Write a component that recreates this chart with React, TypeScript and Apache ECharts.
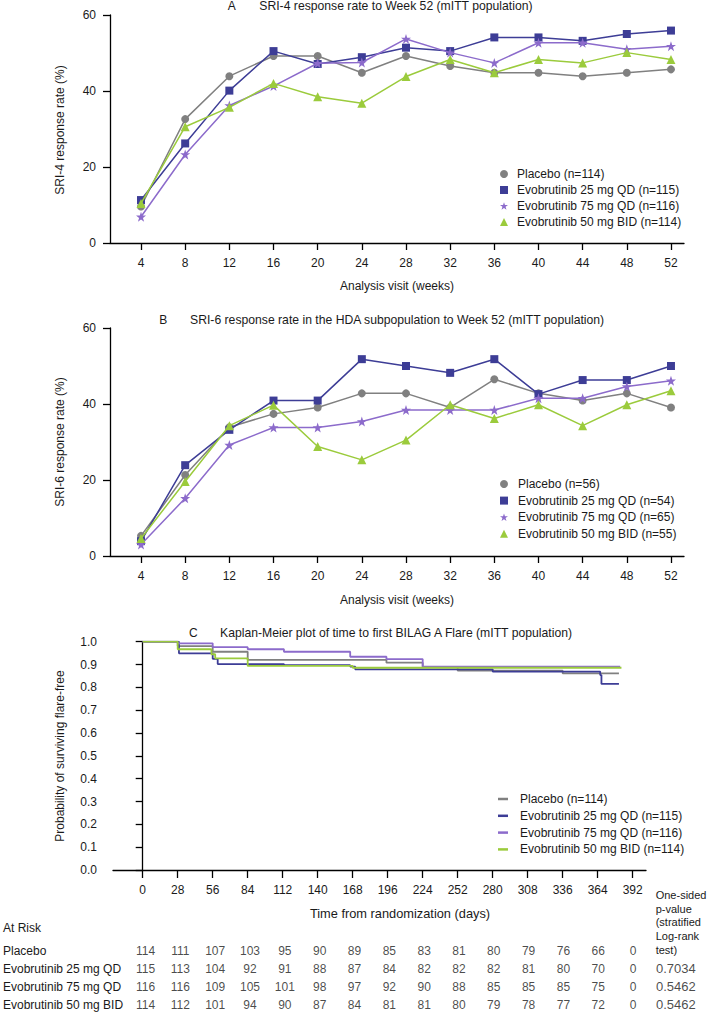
import React, { useEffect, useRef } from 'react';
import * as echarts from 'echarts';

// ---------- data ----------
const weeks = [4, 8, 12, 16, 20, 24, 28, 32, 36, 40, 44, 48, 52];

const namesA = ['Placebo (n=114)', 'Evobrutinib 25 mg QD (n=115)', 'Evobrutinib 75 mg QD (n=116)', 'Evobrutinib 50 mg BID (n=114)'];
const namesB = ['Placebo (n=56)', 'Evobrutinib 25 mg QD (n=54)', 'Evobrutinib 75 mg QD (n=65)', 'Evobrutinib 50 mg BID (n=55)'];
const namesC = ['Placebo (n=114)', 'Evobrutinib 25 mg QD (n=115)', 'Evobrutinib 75 mg QD (n=116)', 'Evobrutinib 50 mg BID (n=114)'];

const sri4Placebo = [9.6, 32.6, 43.9, 49.2, 49.2, 44.8, 49.2, 46.6, 44.8, 44.8, 43.9, 44.8, 45.7];
const sri4Evo25 = [11.3, 26.2, 40.1, 50.5, 47.1, 48.9, 51.4, 50.5, 54.1, 54.1, 53.2, 55.0, 55.9];
const sri4Evo75 = [6.9, 23.3, 36.2, 41.3, 47.3, 47.5, 53.7, 50.1, 47.4, 52.7, 52.7, 51.0, 51.8];
const sri4Evo50 = [10.4, 30.6, 35.7, 42.0, 38.5, 36.8, 43.8, 48.3, 44.8, 48.3, 47.4, 50.1, 48.3];

const sri6Placebo = [5.3, 21.3, 33.9, 37.4, 39.1, 42.8, 42.8, 39.1, 46.5, 42.8, 40.9, 42.8, 39.1];
const sri6Evo25 = [3.9, 23.9, 33.2, 40.9, 40.9, 51.8, 50.0, 48.2, 51.8, 42.6, 46.3, 46.3, 50.0];
const sri6Evo75 = [3.0, 15.2, 29.2, 33.8, 33.8, 35.4, 38.4, 38.4, 38.4, 41.5, 41.5, 44.6, 46.1];
const sri6Evo50 = [4.6, 19.6, 34.3, 39.7, 28.8, 25.3, 30.5, 39.8, 36.2, 39.8, 34.3, 39.8, 43.5];

// Kaplan-Meier steps: [day of change, survival after change]
const kmPlacebo = [[0, 1], [28, 0.981], [56, 0.956], [84, 0.92], [195, 0.908], [224, 0.889], [252, 0.873], [336, 0.861], [381, 0.861]];
const kmEvo25 = [[0, 1], [29, 0.949], [56, 0.925], [60, 0.902], [113, 0.897], [166, 0.891], [170, 0.879], [280, 0.869], [366, 0.854], [367, 0.815], [381, 0.815]];
const kmEvo75 = [[0, 1], [28, 0.993], [56, 0.976], [84, 0.967], [113, 0.956], [166, 0.934], [195, 0.924], [224, 0.891], [382, 0.891]];
const kmEvo50 = [[0, 1], [28, 0.967], [55, 0.945], [58, 0.927], [84, 0.894], [168, 0.886], [383, 0.886]];

const riskDays = [0, 28, 56, 84, 112, 140, 168, 196, 224, 252, 280, 308, 336, 364, 392];
const riskRows = ['Placebo', 'Evobrutinib 25 mg QD', 'Evobrutinib 75 mg QD', 'Evobrutinib 50 mg BID'];
const riskPlacebo = [114, 111, 107, 103, 95, 90, 89, 85, 83, 81, 80, 79, 76, 66, 0];
const riskEvo25 = [115, 113, 104, 92, 91, 88, 87, 84, 82, 82, 82, 81, 80, 70, 0];
const riskEvo75 = [116, 116, 109, 105, 101, 98, 97, 92, 90, 88, 85, 85, 85, 75, 0];
const riskEvo50 = [114, 112, 101, 94, 90, 87, 84, 81, 81, 80, 79, 78, 77, 72, 0];
const pValues = [null, 0.7034, 0.5462, 0.5462];

// ---------- styles ----------
const FAMILY = 'Liberation Sans';
const TXT = '#1a1a1a';
const COLORS = ['#808080', '#3d3d96', '#8c6bcb', '#9bcb3c'];
const STAR = 'path://M12,0L14.9,8.6L24,8.6L16.7,14L19.4,22.8L12,17.5L4.6,22.8L7.3,14L0,8.6L9.1,8.6Z';
const SYMBOLS = ['circle', 'rect', STAR, 'triangle'];
const SYMSIZE = [8, 8, 10, 9];
const PCOL_DAY = 410.4;

function buildOption() {
  const axisLineStyle = { color: '#000', width: 1.3 };
  const lbl = { fontSize: 12, color: TXT, fontFamily: FAMILY };
  const weekAxis = (gridIndex: number) => ({
    type: 'value', gridIndex, min: 1.19, max: 53.18,
    axisLine: { show: true, lineStyle: axisLineStyle },
    axisTick: { show: true, length: 7, lineStyle: axisLineStyle, customValues: weeks },
    axisLabel: { customValues: weeks, margin: 14, ...lbl },
    splitLine: { show: false },
  });
  const pctAxis = (gridIndex: number) => ({
    type: 'value', gridIndex, min: 0, max: 60, interval: 20,
    axisLine: { show: true, lineStyle: axisLineStyle },
    axisTick: { show: true, length: 7, lineStyle: axisLineStyle },
    axisLabel: { margin: 14, ...lbl },
    splitLine: { show: false },
  });

  const lineSeries = (names: string[], arrays: number[][], idx: number) =>
    arrays.map((arr, i) => ({
      type: 'line', name: names[i], xAxisIndex: idx, yAxisIndex: idx,
      data: weeks.map((w, j) => [w, arr[j]]),
      symbol: SYMBOLS[i], symbolSize: SYMSIZE[i], showSymbol: true,
      lineStyle: { color: COLORS[i], width: 1.5 },
      itemStyle: { color: COLORS[i] },
      z: 3 + i, silent: true,
    }));

  const kmSeries = [kmPlacebo, kmEvo25, kmEvo75, kmEvo50].map((d, i) => ({
    type: 'line', name: namesC[i], xAxisIndex: 2, yAxisIndex: 2, step: 'end',
    data: d, symbol: 'none', showSymbol: false,
    lineStyle: { color: COLORS[i], width: 1.8 }, itemStyle: { color: COLORS[i] },
    z: [3, 4, 5, 6][i], silent: true,
  }));

  const riskArrays = [riskPlacebo, riskEvo25, riskEvo75, riskEvo50];
  const riskData: any[] = [];
  riskArrays.forEach((arr, r) => arr.forEach((v, j) => riskData.push([riskDays[j], riskRows[r], v])));
  const pData: any[] = [];
  pValues.forEach((p, r) => { if (p !== null) pData.push([PCOL_DAY, riskRows[r], p]); });

  const legend = (names: string[], left: number, top: number, gap: number, withSymbols: boolean, padLeft: number) => ({
    orient: 'vertical', left, top, itemGap: gap,
    itemWidth: withSymbols ? 8 : 10, itemHeight: withSymbols ? 8 : 2.5,
    textStyle: { ...lbl, padding: [0, 0, 0, padLeft] },
    selectedMode: false,
    data: names.map((n, i) => ({ name: n, icon: withSymbols ? SYMBOLS[i] : 'rect', itemStyle: { color: COLORS[i] } })),
  });

  const txt = (text: string, x: number, y: number, align = 'left', size = 12) => ({
    type: 'text', x, y, silent: true,
    style: { text, fill: TXT, fontSize: size, fontFamily: FAMILY, textAlign: align, textVerticalAlign: 'middle' },
  });
  const vtxt = (text: string, x: number, y: number) => ({
    type: 'text', x, y, rotation: Math.PI / 2, silent: true,
    style: { text, fill: TXT, fontSize: 12, fontFamily: FAMILY, textAlign: 'center', textVerticalAlign: 'middle' },
  });

  return {
    animation: false,
    backgroundColor: '#ffffff',
    textStyle: { fontFamily: FAMILY },
    grid: [
      { left: 110, top: 15, width: 574, height: 228 },
      { left: 110, top: 328, width: 574, height: 228 },
      { left: 113, top: 641.7, width: 533, height: 228.3 },
      { left: 113, top: 941.75, width: 596, height: 74 },
    ],
    xAxis: [
      weekAxis(0),
      weekAxis(1),
      {
        type: 'value', gridIndex: 2, min: -23.76, max: 402.64,
        axisLine: { show: true, lineStyle: axisLineStyle },
        axisTick: { show: true, length: 8, lineStyle: axisLineStyle, customValues: riskDays },
        axisLabel: { customValues: riskDays, margin: 14, ...lbl },
        splitLine: { show: false },
      },
      { type: 'value', gridIndex: 3, min: -23.76, max: 453.04, show: false },
    ],
    yAxis: [
      pctAxis(0),
      pctAxis(1),
      {
        type: 'value', gridIndex: 2, min: 0, max: 1, interval: 0.1,
        axisLine: { show: true, lineStyle: axisLineStyle },
        axisTick: { show: true, length: 7, lineStyle: axisLineStyle },
        axisLabel: { margin: 16, ...lbl, formatter: (v: number) => v.toFixed(1) },
        splitLine: { show: false },
      },
      {
        type: 'category', gridIndex: 3, data: riskRows, inverse: true,
        axisLine: { show: false }, axisTick: { show: false }, splitLine: { show: false },
        axisLabel: { align: 'left', margin: 113, ...lbl },
      },
    ],
    legend: [
      legend(namesA, 495, 163, 4, true, 4),
      legend(namesB, 495, 473, 4.6, true, 5),
      legend(namesC, 493, 788, 4.8, false, 7),
    ],
    series: [
      ...lineSeries(namesA, [sri4Placebo, sri4Evo25, sri4Evo75, sri4Evo50], 0),
      ...lineSeries(namesB, [sri6Placebo, sri6Evo25, sri6Evo75, sri6Evo50], 1),
      ...kmSeries,
      {
        type: 'scatter', name: 'At risk', xAxisIndex: 3, yAxisIndex: 3, data: riskData,
        symbolSize: 0, silent: true,
        label: { show: true, position: 'inside', formatter: (p: any) => String(p.value[2]), ...lbl },
      },
      {
        type: 'scatter', name: 'p-value', xAxisIndex: 3, yAxisIndex: 3, data: pData,
        symbolSize: 0, silent: true,
        label: { show: true, position: 'inside', align: 'left', formatter: (p: any) => p.value[2].toFixed(4), ...lbl, fontSize: 13 },
      },
    ],
    graphic: [
      txt('A', 231.7, 6, 'center'),
      txt('SRI-4 response rate to Week 52 (mITT population)', 259.3, 6, 'left', 12.2),
      vtxt('SRI-4 response rate (%)', 60, 130),
      txt('Analysis visit (weeks)', 397, 285.7, 'center'),
      txt('B', 163.3, 320, 'center'),
      txt('SRI-6 response rate in the HDA subpopulation to Week 52 (mITT population)', 190, 320, 'left', 12.2),
      vtxt('SRI-6 response rate (%)', 60, 442),
      txt('Analysis visit (weeks)', 397, 600, 'center'),
      txt('C', 193.3, 632.7, 'center'),
      txt('Kaplan-Meier plot of time to first BILAG A Flare (mITT population)', 220, 632.7, 'left', 12.2),
      vtxt('Probability of surviving flare-free', 60, 756),
      txt('Time from randomization (days)', 400, 913, 'center', 12.8),
      txt('At Risk', 3, 927.7),
      {
        type: 'text', x: 655.7, y: 888, silent: true,
        style: { text: 'One-sided\np-value\n(stratified\nLog-rank\ntest)', fill: TXT, fontSize: 11, fontFamily: FAMILY, lineHeight: 13.7, textAlign: 'left', textVerticalAlign: 'top' },
      },
    ],
  };
}

export default function App() {
  const ref = useRef<HTMLDivElement>(null);
  useEffect(() => {
    document.body.style.margin = '0';
    const chart = echarts.init(ref.current as HTMLDivElement, null, { renderer: 'svg' });
    chart.setOption(buildOption() as any);
    return () => chart.dispose();
  }, []);
  return <div ref={ref} style={{ position: 'absolute', left: 0, top: 0, width: 709, height: 1014, background: '#fff' }} />;
}
